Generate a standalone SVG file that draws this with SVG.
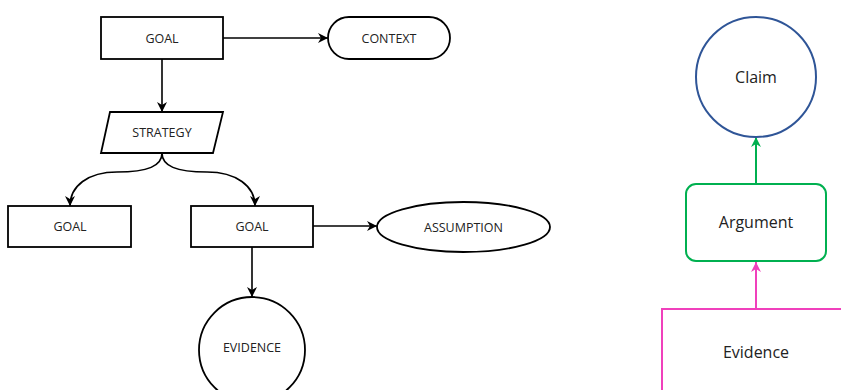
<svg xmlns="http://www.w3.org/2000/svg" width="841" height="390" viewBox="0 0 841 390">
<style>
.n{fill:#fff;stroke:#000;stroke-width:1.8}
.t{font-family:"Open Sans","Segoe UI",sans-serif;font-size:12.5px;fill:#222;text-anchor:middle;dominant-baseline:central}
.tb{font-family:"Open Sans","Segoe UI",sans-serif;font-size:16px;fill:#222;text-anchor:middle;dominant-baseline:central}
.c{fill:none;stroke:#000;stroke-width:1.6}
</style>
<defs>
<marker id="ah" viewBox="0 0 10 10" refX="10" refY="5" markerWidth="10" markerHeight="10" markerUnits="userSpaceOnUse" orient="auto">
<path d="M0,0 L10,5 L0,10 L3,5 z" fill="#000"/>
</marker>
<marker id="ag" viewBox="0 0 10 10" refX="10" refY="5" markerWidth="10" markerHeight="10" markerUnits="userSpaceOnUse" orient="auto">
<path d="M0,0 L10,5 L0,10 L3,5 z" fill="#00B050"/>
</marker>
<marker id="ap" viewBox="0 0 10 10" refX="10" refY="5" markerWidth="10" markerHeight="10" markerUnits="userSpaceOnUse" orient="auto">
<path d="M0,0 L10,5 L0,10 L3,5 z" fill="#F040BC"/>
</marker>
</defs>
<rect width="841" height="390" fill="#fff"/>
<g id="connectors">
<path class="c" d="M223,38 H328" marker-end="url(#ah)"/>
<path class="c" d="M162,59 V112" marker-end="url(#ah)"/>
<path class="c" d="M162,153 C162,166 148,172 117,172 C88,172 70,186 70,206" marker-end="url(#ah)"/>
<path class="c" d="M162,153 C162,166 176,172 207,172 C236,172 255,186 255,206" marker-end="url(#ah)"/>
<path class="c" d="M313,226 H377" marker-end="url(#ah)"/>
<path class="c" d="M252,247 V297" marker-end="url(#ah)"/>
<path d="M756,184 V137" fill="none" stroke="#00B050" stroke-width="2" marker-end="url(#ag)"/>
<path d="M756,309 V262" fill="none" stroke="#F040BC" stroke-width="2" marker-end="url(#ap)"/>
</g>
<g id="goal1"><rect class="n" x="101" y="17" width="122" height="42"/><text class="t" x="162" y="38">GOAL</text></g>
<g id="context"><rect class="n" x="328" y="17" width="122" height="42" rx="21" ry="21"/><text class="t" x="389" y="38">CONTEXT</text></g>
<g id="strategy"><polygon class="n" points="110,112 223,112 213,153 101,153"/><text class="t" x="162" y="132">STRATEGY</text></g>
<g id="goal2"><rect class="n" x="8" y="206" width="123" height="41"/><text class="t" x="70" y="226">GOAL</text></g>
<g id="goal3"><rect class="n" x="191" y="206" width="122" height="41"/><text class="t" x="252" y="226">GOAL</text></g>
<g id="assumption"><ellipse class="n" cx="463.5" cy="227" rx="86.5" ry="25"/><text class="t" x="463.5" y="227">ASSUMPTION</text></g>
<g id="evidence1"><circle class="n" cx="252" cy="350" r="53"/><text class="t" x="252" y="347">EVIDENCE</text></g>
<g id="claim"><circle cx="756" cy="77" r="60" fill="#fff" stroke="#2F5597" stroke-width="2"/><text class="tb" x="756" y="77">Claim</text></g>
<g id="argument"><rect x="686" y="184" width="140" height="77" rx="10" ry="10" fill="#fff" stroke="#00B050" stroke-width="2"/><text class="tb" x="756" y="222">Argument</text></g>
<g id="evidence2"><rect x="662" y="309" width="200" height="100" fill="#fff" stroke="#F040BC" stroke-width="2"/><text class="tb" x="756" y="352">Evidence</text></g>
</svg>
